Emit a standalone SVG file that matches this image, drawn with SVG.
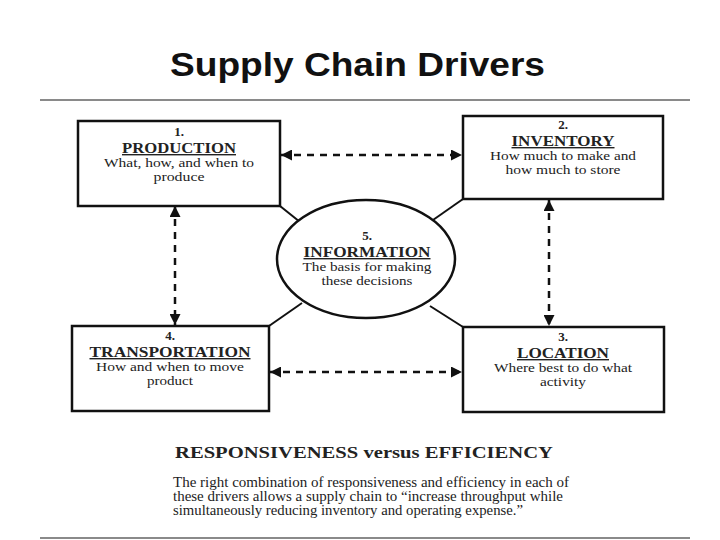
<svg xmlns="http://www.w3.org/2000/svg" width="720" height="540" viewBox="0 0 720 540">
<defs>
<style>
.box{fill:#fff;stroke:#111;stroke-width:2.5}
.spoke{stroke:#111;stroke-width:2;fill:none}
.dash{stroke:#111;stroke-width:2.5;fill:none;stroke-dasharray:7 6}
.num{font-family:"Liberation Serif",serif;font-size:13px;font-weight:bold;fill:#222;text-anchor:middle}
.head{font-family:"Liberation Serif",serif;font-size:14px;font-weight:bold;fill:#222;text-anchor:middle;text-decoration:underline}
.desc{font-family:"Liberation Serif",serif;font-size:13.5px;fill:#222;text-anchor:middle}
.rule{stroke:#8a8a8a;stroke-width:2}
</style>
<marker id="ah" viewBox="0 0 10 10" refX="10" refY="5" markerWidth="4.4" markerHeight="4.4" orient="auto-start-reverse" markerUnits="strokeWidth">
<path d="M0,0 L10,5 L0,10 z" fill="#111"/>
</marker>
</defs>
<rect width="720" height="540" fill="#fff"/>
<text x="170" y="76" font-family="'Liberation Sans',Arial,sans-serif" font-size="33" font-weight="bold" fill="#111" textLength="375" lengthAdjust="spacingAndGlyphs">Supply Chain Drivers</text>
<line class="rule" x1="40" y1="100" x2="690" y2="100"/>
<line class="rule" x1="40" y1="538" x2="690" y2="538"/>

<g id="connectors">
<line class="spoke" x1="280" y1="206" x2="300" y2="222"/>
<line class="spoke" x1="463" y1="199" x2="433" y2="220"/>
<line class="spoke" x1="302" y1="303" x2="269" y2="326"/>
<line class="spoke" x1="430" y1="306" x2="463" y2="327"/>
<line class="dash" x1="281" y1="155" x2="462" y2="155" marker-start="url(#ah)" marker-end="url(#ah)"/>
<line class="dash" x1="270" y1="372" x2="462" y2="372" marker-start="url(#ah)" marker-end="url(#ah)"/>
<line class="dash" x1="175" y1="206" x2="175" y2="325" marker-start="url(#ah)" marker-end="url(#ah)"/>
<line class="dash" x1="549" y1="200" x2="549" y2="326" marker-start="url(#ah)" marker-end="url(#ah)"/>
</g>

<g id="production">
<rect class="box" x="78" y="121" width="202" height="85"/>
<text class="num" x="179" y="136">1.</text>
<text class="head" x="179" y="153" textLength="114" lengthAdjust="spacingAndGlyphs">PRODUCTION</text>
<text class="desc" x="179" y="167" textLength="150" lengthAdjust="spacingAndGlyphs">What, how, and when to</text>
<text class="desc" x="179" y="181" textLength="51" lengthAdjust="spacingAndGlyphs">produce</text>
</g>

<g id="inventory">
<rect class="box" x="463" y="116" width="200" height="83"/>
<text class="num" x="563" y="129">2.</text>
<text class="head" x="563" y="146" textLength="103" lengthAdjust="spacingAndGlyphs">INVENTORY</text>
<text class="desc" x="563" y="160" textLength="146" lengthAdjust="spacingAndGlyphs">How much to make and</text>
<text class="desc" x="563" y="174" textLength="115" lengthAdjust="spacingAndGlyphs">how much to store</text>
</g>

<g id="information">
<ellipse class="box" cx="366" cy="259" rx="89" ry="59"/>
<text class="num" x="367" y="240">5.</text>
<text class="head" x="367" y="257" textLength="127" lengthAdjust="spacingAndGlyphs">INFORMATION</text>
<text class="desc" x="367" y="271" textLength="129" lengthAdjust="spacingAndGlyphs">The basis for making</text>
<text class="desc" x="367" y="285" textLength="91" lengthAdjust="spacingAndGlyphs">these decisions</text>
</g>

<g id="transportation">
<rect class="box" x="72" y="326" width="197" height="85"/>
<text class="num" x="170" y="340">4.</text>
<text class="head" x="170" y="357" textLength="161" lengthAdjust="spacingAndGlyphs">TRANSPORTATION</text>
<text class="desc" x="170" y="371" textLength="148" lengthAdjust="spacingAndGlyphs">How and when to move</text>
<text class="desc" x="170" y="385" textLength="46" lengthAdjust="spacingAndGlyphs">product</text>
</g>

<g id="location">
<rect class="box" x="463" y="327" width="201" height="85"/>
<text class="num" x="563" y="341">3.</text>
<text class="head" x="563" y="358" textLength="92" lengthAdjust="spacingAndGlyphs">LOCATION</text>
<text class="desc" x="563" y="372" textLength="138" lengthAdjust="spacingAndGlyphs">Where best to do what</text>
<text class="desc" x="563" y="386" textLength="46" lengthAdjust="spacingAndGlyphs">activity</text>
</g>

<g id="caption" font-family="'Liberation Serif',serif" fill="#222">
<text x="175" y="458" font-size="17.5" font-weight="bold" textLength="378" lengthAdjust="spacingAndGlyphs">RESPONSIVENESS versus EFFICIENCY</text>
<text x="173" y="487" font-size="14" textLength="396" lengthAdjust="spacingAndGlyphs">The right combination of responsiveness and efficiency in each of</text>
<text x="173" y="501" font-size="14" textLength="390" lengthAdjust="spacingAndGlyphs">these drivers allows a supply chain to “increase throughput while</text>
<text x="173" y="515" font-size="14" textLength="350" lengthAdjust="spacingAndGlyphs">simultaneously reducing inventory and operating expense.”</text>
</g>
</svg>
